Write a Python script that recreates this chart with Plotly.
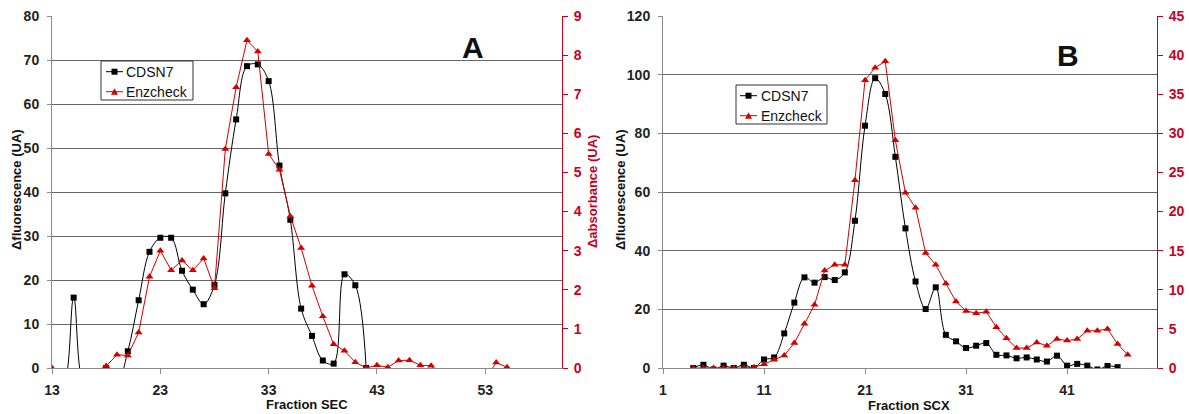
import plotly.graph_objects as go

W, H = 1189, 414

# ---------------- data ----------------
sec_fractions_cdsn7 = list(range(13, 43))
sec_cdsn7 = [-3, -4, 16.0, -4, -4, 0.0, -3.7, 3.8, 15.4, 26.4, 29.6, 29.6, 22.1, 17.8, 14.5,
             18.9, 39.7, 56.5, 68.6, 69.0, 65.2, 46.0, 33.7, 13.5, 7.3, 1.7, 1.0, 21.3, 18.8, 0.0]
sec_fractions_enz = list(range(13, 56))
sec_enzcheck = [0.0, -0.3, -0.3, -0.3, -0.1, 0.05, 0.34, 0.32, 0.91, 2.33, 3.0, 2.5, 2.75, 2.5,
                2.8, 2.04, 5.6, 7.18, 8.38, 8.09, 5.47, 5.07, 3.88, 3.07, 2.1, 1.32, 0.61, 0.44,
                0.15, 0.0, 0.07, 0.02, 0.19, 0.2, 0.07, 0.06, -0.3, -0.3, -0.3, -0.3, -0.3, 0.14, 0.02]

scx_fractions_cdsn7 = list(range(1, 47))
scx_cdsn7 = [-1.5, -1.5, -1.5, 0.0, 1.1, -0.5, 0.8, 0.0, 1.1, 0.0, 2.9, 3.6, 11.8, 22.3, 30.9,
             29.1, 31.0, 30.0, 32.6, 50.2, 82.6, 98.8, 93.4, 72.0, 47.6, 29.5, 20.1, 27.5, 11.3,
             9.1, 6.8, 7.6, 8.5, 4.5, 4.3, 3.3, 3.6, 2.9, 2.2, 4.2, 0.8, 1.4, 0.8, -0.5, 0.7, 0.3]
scx_fractions_enz = list(range(1, 48))
scx_enzcheck = [-0.5, -0.5, -0.5, 0.0, 0.0, 0.0, 0.0, 0.0, 0.0, 0.1, 0.47, 1.06, 1.6, 3.2, 5.65,
                8.07, 12.45, 13.2, 13.2, 24.0, 36.8, 38.4, 39.2, 29.1, 22.4, 20.5, 14.7, 13.2,
                10.8, 8.5, 7.3, 7.0, 7.2, 5.2, 3.8, 2.55, 2.55, 3.27, 2.85, 3.7, 3.5, 3.7, 4.76,
                4.76, 5.0, 3.06, 1.7]

sec_ticks = [13, 23, 33, 43, 53]
scx_ticks = [1, 11, 21, 31, 41]
series_names = ["CDSN7", "Enzcheck"]

# ---------------- style ----------------
FONT = "Liberation Sans, Arial, sans-serif"
RED = "#d40000"
AXRED = "#c8001e"
GRID = "#666666"
AXGRAY = "#8a8a8a"


def px(x):
    return x / W


def py(y):
    return 1 - y / H


fig = go.Figure()

fig.add_trace(go.Scatter(x=sec_fractions_cdsn7, y=sec_cdsn7, name=series_names[0], mode="lines+markers",
                         line=dict(color="black", width=1, shape="spline", smoothing=1.0),
                         marker=dict(symbol="square", size=6, color="black"),
                         xaxis="x", yaxis="y"))
fig.add_trace(go.Scatter(x=sec_fractions_enz, y=sec_enzcheck, name=series_names[1], mode="lines+markers",
                         line=dict(color=RED, width=1),
                         marker=dict(symbol="triangle-up", size=7, color=RED),
                         xaxis="x", yaxis="y2"))
fig.add_trace(go.Scatter(x=scx_fractions_cdsn7, y=scx_cdsn7, name=series_names[0], mode="lines+markers",
                         line=dict(color="black", width=1, shape="spline", smoothing=1.0),
                         marker=dict(symbol="square", size=6, color="black"),
                         xaxis="x2", yaxis="y3"))
fig.add_trace(go.Scatter(x=scx_fractions_enz, y=scx_enzcheck, name=series_names[1], mode="lines+markers",
                         line=dict(color=RED, width=1),
                         marker=dict(symbol="triangle-up", size=7, color=RED),
                         xaxis="x2", yaxis="y4"))

tickfont = dict(family=FONT, size=14, color="#222", weight="bold")
redtickfont = dict(family=FONT, size=14, color=AXRED, weight="bold")
ydom = [py(368), py(16)]

common_x = dict(showgrid=False, zeroline=False, showline=True, linecolor=AXGRAY, linewidth=1,
                ticks="outside", ticklen=5, tickcolor=AXGRAY, tickfont=tickfont,
                ticklabelstandoff=4, automargin=False)
common_y = dict(showgrid=True, gridcolor=GRID, gridwidth=1, zeroline=False, showline=True,
                linecolor=AXGRAY, linewidth=1, ticks="outside", ticklen=4, tickcolor=AXGRAY,
                tickfont=tickfont, ticklabelstandoff=5, automargin=False)
common_y2 = dict(showgrid=False, zeroline=False, showline=True, linecolor=AXRED, linewidth=1,
                 ticks="outside", ticklen=5, tickcolor=AXRED, tickfont=redtickfont,
                 ticklabelstandoff=3, side="right", automargin=False)

fig.update_layout(
    width=W, height=H, margin=dict(l=0, r=0, t=0, b=0, autoexpand=False),
    paper_bgcolor="white", plot_bgcolor="white", showlegend=False,
    xaxis=dict(domain=[px(52), px(562)], range=[13, 60.08], tickvals=sec_ticks, anchor="y",
               **common_x),
    yaxis=dict(domain=ydom, range=[0, 80], dtick=10, anchor="x", **common_y),
    yaxis2=dict(overlaying="y", anchor="x", range=[0, 9], dtick=1, **common_y2),
    xaxis2=dict(domain=[px(663), px(1157)], range=[1, 49.9], tickvals=scx_ticks, anchor="y3",
                **common_x),
    yaxis3=dict(domain=ydom, range=[0, 120], dtick=20, anchor="x2", **common_y),
    yaxis4=dict(overlaying="y3", anchor="x2", range=[0, 45], dtick=5, **common_y2),
)

ann = []
shapes = []


def add_text(text, x, y, size, color="#111", angle=0, bold=True, xanchor="center"):
    ann.append(dict(text=text, x=px(x), y=py(y), xref="paper", yref="paper", showarrow=False,
                    xanchor=xanchor, yanchor="middle", textangle=angle,
                    font=dict(family=FONT, size=size, color=color,
                              weight="bold" if bold else "normal")))


def add_legend(x0, y0, x1, y1, sample_x0, sample_x1, text_x, rows):
    # legend box
    shapes.append(dict(type="rect", xref="paper", yref="paper", x0=px(x0), x1=px(x1),
                       y0=py(y1), y1=py(y0), line=dict(color="#333", width=1),
                       fillcolor="white", layer="above"))
    cx = (sample_x0 + sample_x1) / 2
    for (label, color, sym), ry in zip(rows, [(y0 + 10.7), (y0 + 30.7)]):
        shapes.append(dict(type="line", xref="paper", yref="paper", x0=px(sample_x0),
                           x1=px(sample_x1), y0=py(ry), y1=py(ry),
                           line=dict(color=color, width=1), layer="above"))
        if sym == "square":
            shapes.append(dict(type="rect", xref="paper", yref="paper", x0=px(cx - 3),
                               x1=px(cx + 3), y0=py(ry + 3), y1=py(ry - 3),
                               line=dict(width=0), fillcolor=color, layer="above"))
        else:
            path = "M {:.5f},{:.5f} L {:.5f},{:.5f} L {:.5f},{:.5f} Z".format(
                px(cx - 3.5), py(ry + 3), px(cx + 3.5), py(ry + 3), px(cx), py(ry - 3.5))
            shapes.append(dict(type="path", xref="paper", yref="paper", path=path,
                               line=dict(width=0), fillcolor=color, layer="above"))
        add_text(label, text_x, ry, 14, color="#111", bold=False, xanchor="left")


legend_rows = [(series_names[0], "black", "square"), (series_names[1], RED, "triangle")]
add_legend(101, 61, 193, 100, 106, 123, 123.5, legend_rows)
add_legend(736, 85, 827, 124, 740, 757, 758.5, legend_rows)

add_text("A", 473, 47, 30)
add_text("B", 1068, 55, 30)
add_text("Fraction SEC", 307, 404, 13)
add_text("Fraction SCX", 909, 405, 13)
add_text("Δfluorescence (UA)", 16, 190, 13, angle=-90)
add_text("Δfluorescence (UA)", 620, 190, 13, angle=-90)
add_text("Δabsorbance (UA)", 592, 192, 13, color=AXRED, angle=-90)
add_text("Δabsorbance (UA)", 1196, 192, 13, color=AXRED, angle=-90)
fig.update_layout(annotations=ann, shapes=shapes)

fig.write_html("out.html", config={"displayModeBar": False},
               post_script="document.body.style.margin='0px';document.body.style.overflow='hidden';")
